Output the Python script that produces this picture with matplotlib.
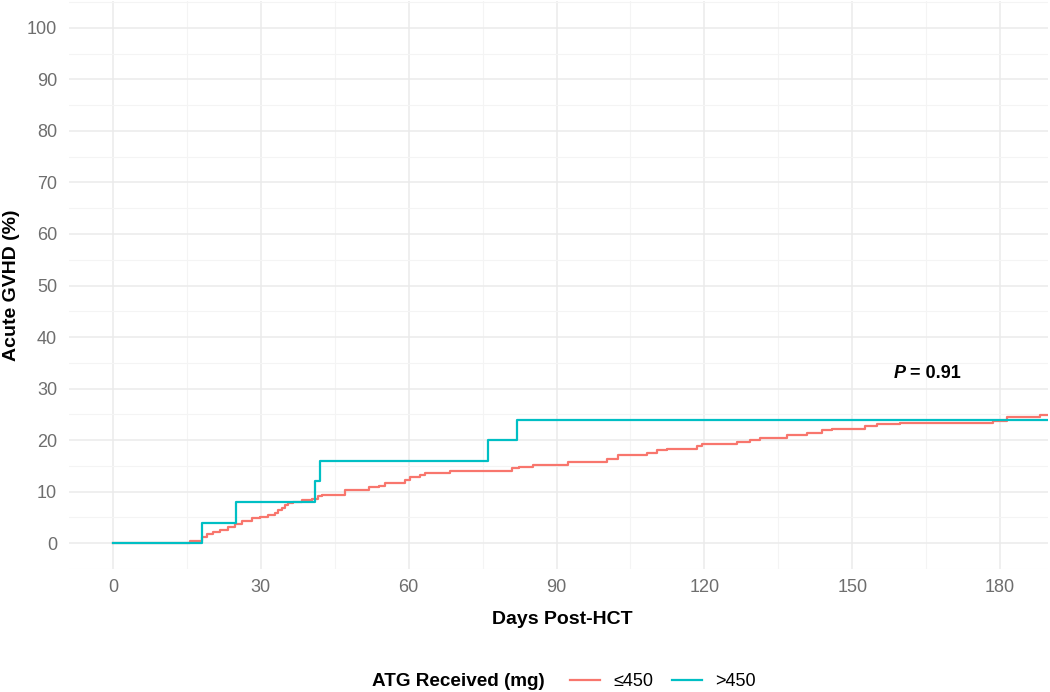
import numpy as np
import matplotlib
matplotlib.use('Agg')
import matplotlib.pyplot as plt
from matplotlib.ticker import MultipleLocator

plt.rcParams['font.family'] = ['Liberation Sans', 'DejaVu Sans']

# step data (time in days, cumulative incidence in % after the step)
lowTimes = [0, 15.6, 18, 19, 20.3, 21.7, 23.4, 24.8, 26.2, 28.2, 29.8, 31.5, 32.9, 33.5,
            34.3, 34.9, 35.5, 36.5, 38.4, 40.4, 41.6, 42.4, 47, 52, 54, 55.2, 59.3, 60.3,
            62.3, 63.3, 68.4, 81, 82.4, 85.2, 92.3, 100.2, 102.5, 108.4, 110.4, 112.4,
            118.5, 119.5, 126.6, 129.3, 131.3, 136.8, 140.8, 143.9, 145.9, 152.6, 155,
            159.7, 178.6, 181.4, 188, 190]
lowValues = [0, 0.4, 1.2, 1.7, 2.2, 2.65, 3.2, 3.8, 4.3, 4.8, 5.1, 5.4, 5.95, 6.4,
             6.9, 7.4, 7.8, 8.0, 8.3, 8.65, 9.2, 9.4, 10.35, 10.85, 11.1, 11.6, 12.3, 12.85,
             13.2, 13.7, 14.05, 14.5, 14.8, 15.15, 15.85, 16.25, 17.2, 17.6, 18.0, 18.35,
             18.8, 19.2, 19.7, 20.1, 20.5, 21.0, 21.45, 21.9, 22.2, 22.7, 23.05,
             23.4, 23.7, 24.5, 24.9, 24.9]

highTimes = [0, 18, 25, 41, 42, 76, 82, 190]
highValues = [0, 4, 8, 12, 16, 20, 24, 24]

groupLabels = ['\u2264450', '>450']
groupColors = ['#F8766D', '#00BFC4']

xTicks = [0, 30, 60, 90, 120, 150, 180]
yTicks = [0, 10, 20, 30, 40, 50, 60, 70, 80, 90, 100]

fig = plt.figure(figsize=(10.5, 6.92), dpi=100)
ax = fig.add_axes([68.5/1050, 1-569/692, (1048-68.5)/1050, (569-1)/692])

ax.step(lowTimes, lowValues, where='post', color=groupColors[0], lw=1.6, label=groupLabels[0], zorder=3)
ax.step(highTimes, highValues, where='post', color=groupColors[1], lw=1.6, label=groupLabels[1], zorder=4)

ax.set_xlim(-9.0, 189.7)
ax.set_ylim(-5, 105.2)
ax.set_xticks(xTicks)
ax.set_yticks(yTicks)
ax.xaxis.set_minor_locator(MultipleLocator(15))
ax.yaxis.set_minor_locator(MultipleLocator(5))
ax.grid(True, which='major', color='#EBEBEB', lw=1.1)
ax.grid(True, which='minor', color='#F4F4F4', lw=0.8)
ax.set_axisbelow(True)
for s in ax.spines.values():
    s.set_visible(False)
ax.tick_params(which='both', length=0)
ax.tick_params(axis='x', pad=7.5, labelsize=13, labelcolor='#6E6E6E')
ax.tick_params(axis='y', pad=8.3, labelsize=13, labelcolor='#6E6E6E')

fig.text(562/1050, 1-620/692, 'Days Post-HCT', ha='center', va='center', fontsize=14, fontweight='bold')
fig.text(12/1050, 1-285/692, 'Acute GVHD (%)', ha='center', va='center', rotation=90, fontsize=14, fontweight='bold')

t = ax.text(158.3, 32.9, 'P', ha='left', va='center', fontsize=13, fontweight='bold', style='italic')
ax.annotate(' = 0.91', xy=(1, 0.5), xycoords=t, ha='left', va='center', fontsize=13, fontweight='bold')

fig.text(372/1050, 1-682/692, 'ATG Received (mg)', ha='left', va='center', fontsize=13.6, fontweight='bold')
fig.legend(loc='center left', bbox_to_anchor=(570/1050, 1-682/692), ncol=2, frameon=False,
           fontsize=13, handlelength=1.67, handletextpad=0.75, columnspacing=1.0, borderpad=0, borderaxespad=0)

plt.savefig('out.png', dpi=100)
